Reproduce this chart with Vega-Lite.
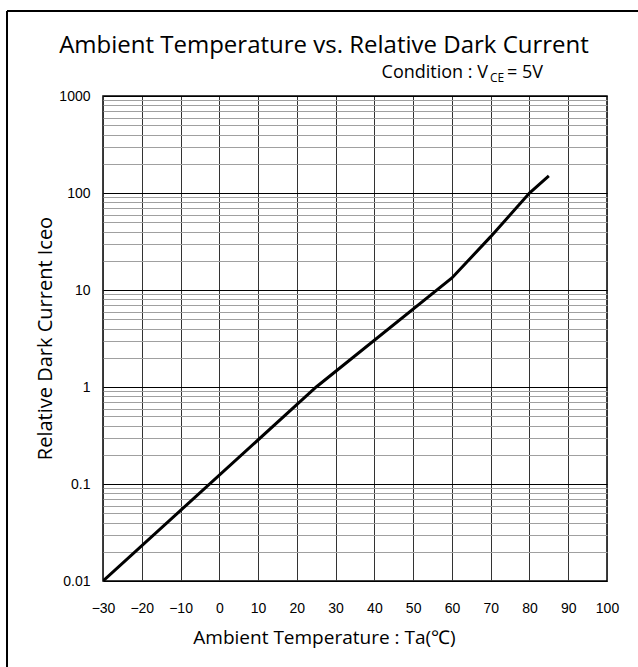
{
  "$schema": "https://vega.github.io/schema/vega-lite/v6.json",
  "width": 504,
  "height": 485,
  "autosize": "none",
  "padding": {"left": 103, "top": 96, "right": 31, "bottom": 86},
  "background": "white",
  "config": {
    "view": {"stroke": "#000", "strokeWidth": 1.5},
    "axis": {"labelOverlap": false, "labelFlush": false, "labelBound": false}
  },
  "datasets": {
    "curve": [
      {"temp": -30, "current": 0.01},
      {"temp": 25, "current": 1.0},
      {"temp": 60, "current": 13.3},
      {"temp": 70, "current": 35.5},
      {"temp": 80, "current": 100},
      {"temp": 85, "current": 150}
    ],
    "one": [{"k": 1}]
  },
  "layer": [
    {
      "data": {"name": "curve"},
      "mark": {"type": "line", "color": "#000", "strokeWidth": 3, "clip": true},
      "encoding": {
        "x": {
          "field": "temp", "type": "quantitative",
          "title": "Ambient Temperature : Ta(℃)",
          "scale": {"domain": [-30, 100], "nice": false, "zero": false},
          "axis": {
            "values": [-30, -20, -10, 0, 10, 20, 30, 40, 50, 60, 70, 80, 90, 100],
            "tickCount": 30,
            "labelOverlap": false, "labelFlush": false, "labelBound": false,
            "grid": true, "gridColor": "#333", "gridWidth": 1,
            "ticks": false, "domain": false,
            "labelFont": "Liberation Sans", "labelFontSize": 14, "labelColor": "#000",
            "labelPadding": 20,
            "titleFont": "Open Sans", "titleFontSize": 19, "titleFontWeight": "normal", "titleColor": "#000",
            "titleX": 221, "titleY": 62, "titleBaseline": "alphabetic", "titleAlign": "center"
          }
        },
        "y": {
          "field": "current", "type": "quantitative",
          "title": "Relative Dark Current Iceo",
          "scale": {"type": "log", "domain": [0.01, 1000], "nice": false},
          "axis": {
            "values": [0.01, 0.02, 0.03, 0.04, 0.05, 0.06, 0.07, 0.08, 0.09,
                       0.1, 0.2, 0.3, 0.4, 0.5, 0.6, 0.7, 0.8, 0.9,
                       1, 2, 3, 4, 5, 6, 7, 8, 9,
                       10, 20, 30, 40, 50, 60, 70, 80, 90,
                       100, 200, 300, 400, 500, 600, 700, 800, 900, 1000],
            "tickCount": 100,
            "labelOverlap": false,
            "labelExpr": "indexof([0.01, 0.1, 1, 10, 100, 1000], datum.value) >= 0 ? toString(datum.value) : ''",
            "grid": true,
            "gridColor": {"condition": {"test": "indexof([0.01, 0.1, 1, 10, 100, 1000], datum.value) >= 0", "value": "#000"}, "value": "#a0a0a0"},
            "gridWidth": 1,
            "ticks": false, "domain": false,
            "labelFont": "Liberation Sans", "labelFontSize": 14, "labelColor": "#000",
            "labelPadding": 13,
            "titleFont": "Open Sans", "titleFontSize": 20, "titleFontWeight": "normal", "titleColor": "#000",
            "titleX": -58, "titleY": 242, "titleAngle": -90, "titleBaseline": "middle", "titleAlign": "center"
          }
        }
      }
    },
    {
      "data": {"name": "one"},
      "mark": {"type": "text", "text": "Ambient Temperature vs. Relative Dark Current", "font": "Open Sans", "fontSize": 24, "align": "center", "baseline": "alphabetic", "color": "#000"},
      "encoding": {"x": {"datum": 27.0, "type": "quantitative"}, "y": {"datum": 2775, "type": "quantitative"}}
    },
    {
      "data": {"name": "one"},
      "mark": {"type": "text", "text": "Condition : V", "font": "Open Sans", "fontSize": 18, "align": "right", "baseline": "alphabetic", "color": "#000"},
      "encoding": {"x": {"datum": 69.30, "type": "quantitative"}, "y": {"datum": 1533, "type": "quantitative"}}
    },
    {
      "data": {"name": "one"},
      "mark": {"type": "text", "text": "CE", "font": "Open Sans", "fontSize": 12, "align": "left", "baseline": "alphabetic", "color": "#000"},
      "encoding": {"x": {"datum": 69.82, "type": "quantitative"}, "y": {"datum": 1394, "type": "quantitative"}}
    },
    {
      "data": {"name": "one"},
      "mark": {"type": "text", "text": "= 5V", "font": "Open Sans", "fontSize": 18, "align": "right", "baseline": "alphabetic", "color": "#000"},
      "encoding": {"x": {"datum": 83.49, "type": "quantitative"}, "y": {"datum": 1533, "type": "quantitative"}}
    },
    {
      "data": {"name": "one"},
      "mark": {"type": "rule", "color": "#000", "strokeWidth": 2},
      "encoding": {"x": {"datum": -54.76, "type": "quantitative"}, "y": {"datum": 0.00001, "type": "quantitative"}, "y2": {"datum": 7518}}
    },
    {
      "data": {"name": "one"},
      "mark": {"type": "rule", "color": "#000", "strokeWidth": 2},
      "encoding": {"x": {"datum": -54.76, "type": "quantitative"}, "x2": {"datum": 200}, "y": {"datum": 7518, "type": "quantitative"}}
    }
  ]
}
